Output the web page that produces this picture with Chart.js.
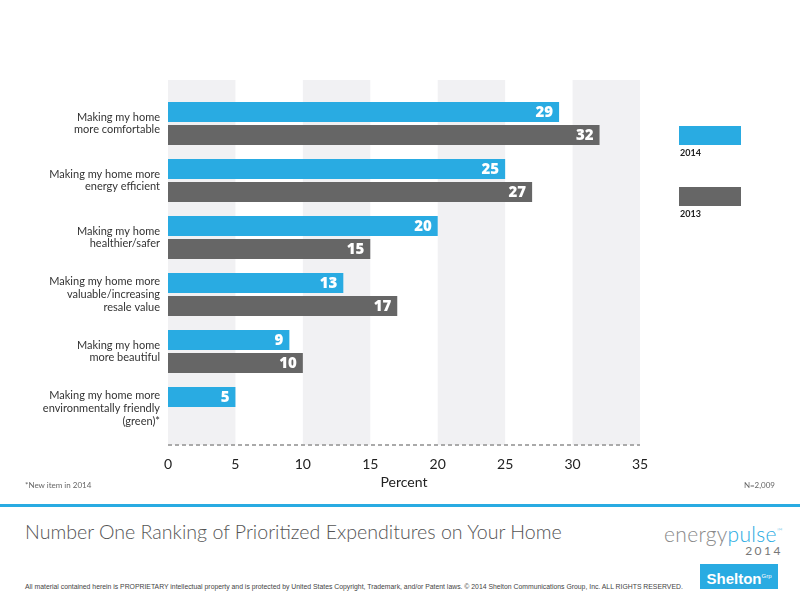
<!DOCTYPE html>
<html>
<head>
<meta charset="utf-8">
<script src="https://cdn.jsdelivr.net/npm/chart.js@4"></script>
<style>
	body { margin: 0; width: 800px; height: 600px; position: relative; background: #fff; font-family: Lato, sans-serif; overflow: hidden; }
	#chartBox { position: absolute; left: 0; top: 0; width: 800px; height: 500px; }
	.note { position: absolute; top: 480px; font-size: 8px; color: #666; }
	#rule { position: absolute; left: 0; top: 504px; width: 800px; height: 3px; background: #29abe2; }
	#title { position: absolute; left: 25px; top: 520px; font-size: 19.6px; font-weight: 300; color: #555; white-space: nowrap; }
	#brand { position: absolute; right: 17px; top: 521px; font-size: 21px; font-weight: 300; color: #888; letter-spacing: 0.3px; }
	#brand span { color: #29abe2; }
	#brand sup { font-size: 8px; color: #29abe2; }
	#brandYear { position: absolute; right: 17px; top: 543px; font-size: 12px; color: #777; letter-spacing: 2.5px; }
	#shelton { position: absolute; left: 700px; top: 564px; width: 78px; height: 25px; background: #29abe2; color: #fff; font-family: "Liberation Sans", Arial, sans-serif; font-weight: bold; font-size: 15px; line-height: 25px; text-align: center; }
	#shelton sup { font-size: 6px; font-weight: normal; }
	#legal { position: absolute; left: 25px; top: 583px; font-size: 6.85px; color: #444; font-family: "Liberation Sans Narrow", "Liberation Sans", sans-serif; white-space: nowrap; }
</style>
</head>
<body>
<div id="chartBox"><canvas id="expenditureChart"></canvas></div>
<div class="note" style="left:25px;">*New item in 2014</div>
<div class="note" style="right:25px;">N=2,009</div>
<div id="rule"></div>
<div id="title">Number One Ranking of Prioritized Expenditures on Your Home</div>
<div id="brand">energy<span>pulse</span><sup>™</sup></div>
<div id="brandYear">2014</div>
<div id="shelton">Shelton<sup>Grp</sup></div>
<div id="legal">All material contained herein is PROPRIETARY intellectual property and is protected by United States Copyright, Trademark, and/or Patent laws. © 2014 Shelton Communications Group, Inc. ALL RIGHTS RESERVED.</div>

<script>
// chart data
const categories = [
	['Making my home', 'more comfortable'],
	['Making my home more', 'energy efficient'],
	['Making my home', 'healthier/safer'],
	['Making my home more', 'valuable/increasing', 'resale value'],
	['Making my home', 'more beautiful'],
	['Making my home more', 'environmentally friendly', '(green)*']
];
const seriesNames = ['2014', '2013'];
const values2014 = [29, 25, 20, 13, 9, 5];
const values2013 = [32, 27, 15, 17, 10, null];
const xTicks = [0, 5, 10, 15, 20, 25, 30, 35];

const BLUE = '#29abe2';
const GREY = '#666666';

// shaded bands behind every other 5-point step + dashed base line
const bandsPlugin = {
	id: 'bands',
	beforeDatasetsDraw(chart) {
		const { ctx, chartArea } = chart;
		const x = chart.scales.x;
		const top = chartArea.top - 15;
		const bottom = chartArea.bottom + 8;
		ctx.save();
		ctx.fillStyle = '#f1f1f3';
		for (let i = 0; i < xTicks.length - 1; i += 2) {
			const x0 = x.getPixelForValue(xTicks[i]);
			const x1 = x.getPixelForValue(xTicks[i + 1]);
			ctx.fillRect(x0, top, x1 - x0, bottom - top);
		}
		ctx.strokeStyle = '#aaaaaa';
		ctx.lineWidth = 2;
		ctx.setLineDash([4, 3]);
		ctx.beginPath();
		ctx.moveTo(chartArea.left, bottom);
		ctx.lineTo(chartArea.right, bottom);
		ctx.stroke();
		ctx.restore();
	}
};

// white numbers at the end of each bar
const valueLabels = {
	id: 'valueLabels',
	afterDatasetsDraw(chart) {
		const { ctx } = chart;
		ctx.save();
		ctx.fillStyle = '#fff';
		ctx.font = '800 15px "Open Sans", sans-serif';
		ctx.textAlign = 'right';
		ctx.textBaseline = 'middle';
		chart.data.datasets.forEach((ds, i) => {
			chart.getDatasetMeta(i).data.forEach((bar, j) => {
				if (ds.data[j] == null) return;
				ctx.fillText(ds.data[j], bar.x - 6, bar.y + 1);
			});
		});
		ctx.restore();
	}
};

// legend on the right: swatch with the year underneath
const sideLegend = {
	id: 'sideLegend',
	afterDraw(chart) {
		const { ctx, chartArea } = chart;
		ctx.save();
		chart.data.datasets.forEach((ds, i) => {
			const left = chartArea.right + 39;
			const top = 126 + i * 61;
			ctx.fillStyle = ds.backgroundColor;
			ctx.fillRect(left, top, 62, 19);
			ctx.fillStyle = '#222';
			ctx.font = 'bold 9px Lato, sans-serif';
			ctx.textAlign = 'left';
			ctx.textBaseline = 'top';
			ctx.fillText(ds.label, left + 1, top + 23);
		});
		ctx.restore();
	}
};

new Chart(document.getElementById('expenditureChart'), {
	type: 'bar',
	data: {
		labels: categories,
		datasets: [
			{
				label: seriesNames[0],
				data: values2014,
				backgroundColor: BLUE
			},
			{
				label: seriesNames[1],
				data: values2013,
				backgroundColor: GREY
			}
		]
	},
	options: {
		indexAxis: 'y',
		responsive: true,
		maintainAspectRatio: false,
		animation: false,
		categoryPercentage: 0.807,
		barPercentage: 0.88,
		layout: {
			padding: { top: 95, right: 160, left: 0, bottom: 0 }
		},
		plugins: {
			legend: { display: false },
			tooltip: { enabled: false }
		},
		scales: {
			x: {
				min: 0,
				max: 35,
				afterBuildTicks(scale) {
					scale.ticks = xTicks.map(v => ({ value: v }));
				},
				afterFit(scale) { scale.height = 63; },
				grid: { display: false, drawTicks: false },
				border: { display: false },
				ticks: {
					padding: 19,
					color: '#222',
					font: { family: 'Lato', size: 14 }
				},
				title: {
					display: true,
					text: 'Percent',
					color: '#222',
					font: { family: 'Lato', size: 14 },
					padding: { top: 0, bottom: 9 }
				}
			},
			y: {
				afterFit(scale) { scale.width = 168; },
				grid: { display: false, drawTicks: false },
				border: { display: false },
				ticks: {
					padding: 8,
					color: '#333',
					font: { family: 'Lato', size: 11, lineHeight: 1.15 }
				}
			}
		}
	},
	plugins: [bandsPlugin, valueLabels, sideLegend]
});
</script>
</body>
</html>
